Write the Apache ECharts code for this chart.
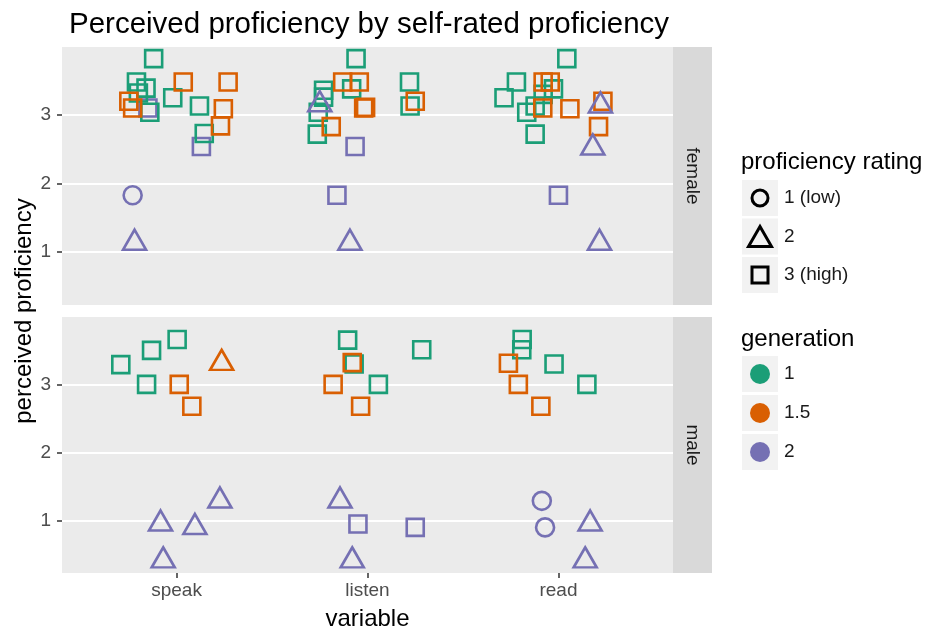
<!DOCTYPE html>
<html lang="en">
<head>
<meta charset="UTF-8">
<title>Perceived proficiency by self-rated proficiency</title>
<script src="https://cdn.jsdelivr.net/npm/echarts@6/dist/echarts.min.js"></script>
<style>html,body{margin:0;padding:0;background:#fff;}</style>
</head>
<body>
<div id="main" style="width:929px;height:631px;"></div>
<script>
var variables = ['speak', 'listen', 'read'];
var sexes = ['female', 'male'];
var generations = ['1', '1.5', '2'];
var ratings = ['1 (low)', '2', '3 (high)'];
var yTicks = [1, 2, 3];
var xTicks = [1, 2, 3];

// rows: [jittered x, perceived proficiency, generation index, rating index]
var femalePoints = [
    // speak
    [0.85, 3.10, 2, 2], [1.13, 2.54, 2, 2], [0.77, 1.83, 2, 0], [0.78, 1.18, 2, 1],
    [0.88, 3.82, 0, 2], [0.79, 3.48, 0, 2], [0.84, 3.39, 0, 2], [0.80, 3.32, 0, 2],
    [0.86, 3.04, 0, 2], [0.98, 3.25, 0, 2], [1.12, 3.13, 0, 2], [1.145, 2.73, 0, 2],
    [0.75, 3.20, 1, 2], [0.77, 3.10, 1, 2], [1.035, 3.48, 1, 2], [1.27, 3.48, 1, 2],
    [1.245, 3.09, 1, 2], [1.23, 2.84, 1, 2],
    // listen
    [1.94, 3.82, 0, 2], [1.917, 3.38, 0, 2], [1.77, 3.36, 0, 2], [1.77, 3.26, 0, 2],
    [1.742, 3.04, 0, 2], [1.737, 2.72, 0, 2], [2.22, 3.48, 0, 2], [2.223, 3.13, 0, 2],
    [1.75, 3.20, 2, 1], [1.935, 2.54, 2, 2], [1.84, 1.83, 2, 2], [1.908, 1.18, 2, 1],
    [1.87, 3.48, 1, 2], [1.957, 3.48, 1, 2], [1.98, 3.10, 1, 2], [1.99, 3.11, 1, 2],
    [1.81, 2.83, 1, 2], [2.25, 3.20, 1, 2],
    // read
    [3.044, 3.82, 0, 2], [2.78, 3.48, 0, 2], [2.974, 3.38, 0, 2], [2.715, 3.25, 0, 2],
    [2.834, 3.04, 0, 2], [2.878, 3.13, 0, 2], [2.92, 3.30, 0, 2], [2.878, 2.72, 0, 2],
    [2.92, 3.48, 1, 2], [2.957, 3.48, 1, 2], [2.918, 3.10, 1, 2], [3.06, 3.09, 1, 2],
    [3.233, 3.20, 1, 2], [3.21, 2.83, 1, 2],
    [3.22, 3.18, 2, 1], [3.18, 2.57, 2, 1], [3.0, 1.83, 2, 2], [3.215, 1.18, 2, 1]
];

var malePoints = [
    // speak
    [0.708, 3.29, 0, 2], [0.869, 3.50, 0, 2], [1.003, 3.66, 0, 2], [0.843, 3.00, 0, 2],
    [1.014, 3.00, 1, 2], [1.08, 2.68, 1, 2], [1.236, 3.36, 1, 1],
    [0.916, 1.00, 2, 1], [1.096, 0.95, 2, 1], [1.227, 1.34, 2, 1], [0.93, 0.46, 2, 1],
    // listen
    [1.896, 3.65, 0, 2], [1.93, 3.30, 0, 2], [2.057, 3.00, 0, 2], [2.284, 3.51, 0, 2],
    [1.92, 3.32, 1, 2], [1.82, 3.00, 1, 2], [1.964, 2.68, 1, 2],
    [1.856, 1.34, 2, 1], [1.95, 0.95, 2, 2], [2.25, 0.90, 2, 2], [1.92, 0.46, 2, 1],
    // read
    [2.81, 3.66, 0, 2], [2.808, 3.51, 0, 2], [2.977, 3.30, 0, 2], [3.149, 3.00, 0, 2],
    [2.738, 3.31, 1, 2], [2.79, 3.00, 1, 2], [2.908, 2.68, 1, 2],
    [2.913, 1.29, 2, 0], [2.93, 0.90, 2, 0], [3.166, 1.00, 2, 1], [3.14, 0.46, 2, 1]
];

var genColors = ['#1b9e77', '#d95f02', '#7570b3'];
var shapeSymbols = ['circle', 'triangle', 'rect'];
var shapeSizes = [18, [23, 20], 17];
var font = 'Liberation Sans, Arial, Helvetica, sans-serif';

var myChart = echarts.init(document.getElementById('main'));

var panels = [
    {top: 47, height: 258},
    {top: 317, height: 256}
];

function toItems(rows) {
    return rows.map(function (r) {
        return {
            value: [r[0], r[1]],
            symbol: shapeSymbols[r[3]],
            symbolSize: shapeSizes[r[3]],
            itemStyle: {
                color: 'rgba(0,0,0,0)',
                borderColor: genColors[r[2]],
                borderWidth: 2.6,
                opacity: 1
            }
        };
    });
}

var grids = [], xAxes = [], yAxes = [], series = [];
var pointSets = [femalePoints, malePoints];

panels.forEach(function (p, i) {
    grids.push({
        left: 62, top: p.top, width: 611, height: p.height,
        show: true, backgroundColor: '#ebebeb', borderWidth: 0
    });
    var isBottom = i === panels.length - 1;
    xAxes.push({
        type: 'value', gridIndex: i, min: 0.4, max: 3.6,
        axisLine: {show: false},
        splitLine: {show: false},
        axisTick: {show: isBottom, customValues: xTicks, length: 5,
            lineStyle: {color: '#333333', width: 1.5}},
        axisLabel: {show: isBottom, customValues: xTicks, margin: 8,
            color: '#4d4d4d', fontSize: 19, fontFamily: font,
            formatter: function (v) { return variables[Math.round(v) - 1]; }}
    });
    yAxes.push({
        type: 'value', gridIndex: i, min: 0.23, max: 3.99,
        axisLine: {show: false},
        splitLine: {show: true, lineStyle: {color: '#ffffff', width: 2}},
        axisTick: {show: true, customValues: yTicks, length: 5,
            lineStyle: {color: '#333333', width: 1.5}},
        axisLabel: {customValues: yTicks, margin: 11,
            color: '#4d4d4d', fontSize: 19, fontFamily: font}
    });
    series.push({
        type: 'scatter', name: sexes[i],
        xAxisIndex: i, yAxisIndex: i,
        itemStyle: {opacity: 1},
        data: toItems(pointSets[i]),
        emphasis: {disabled: true}
    });
});

var graphics = [];
// facet strips
panels.forEach(function (p, i) {
    graphics.push({
        type: 'rect', shape: {x: 673, y: p.top, width: 39, height: p.height},
        style: {fill: '#d9d9d9'}, silent: true
    });
    graphics.push({
        type: 'text', x: 692.5, y: p.top + p.height / 2, rotation: -Math.PI / 2,
        style: {text: sexes[i], fill: '#1a1a1a', font: '19px ' + font,
            textAlign: 'center', textVerticalAlign: 'middle'}
    });
});

// axis titles
graphics.push({
    type: 'text', x: 24, y: 311, rotation: Math.PI / 2,
    style: {text: 'perceived proficiency', fill: '#000', font: '24px ' + font,
        textAlign: 'center', textVerticalAlign: 'middle'}
});
graphics.push({
    type: 'text', x: 367.5, y: 619,
    style: {text: 'variable', fill: '#000', font: '24px ' + font,
        textAlign: 'center', textVerticalAlign: 'middle'}
});

// legend: proficiency rating (shape)
graphics.push({
    type: 'text', x: 741, y: 162,
    style: {text: 'proficiency rating', fill: '#000', font: '24px ' + font,
        textVerticalAlign: 'middle'}
});
var keyTops1 = [180, 218.5, 257];
ratings.forEach(function (lab, k) {
    var y0 = keyTops1[k];
    graphics.push({type: 'rect', shape: {x: 742, y: y0, width: 36, height: 36},
        style: {fill: '#f2f2f2'}, silent: true});
    var sz = shapeSizes[k];
    var w = Array.isArray(sz) ? sz[0] : sz, h = Array.isArray(sz) ? sz[1] : sz;
    var cx = 760, cy = y0 + 18, sym;
    if (k === 0) {
        sym = {type: 'circle', shape: {cx: cx, cy: cy, r: 8}};
    } else if (k === 1) {
        sym = {type: 'polygon', shape: {points: [[cx, cy - h / 2], [cx + w / 2, cy + h / 2], [cx - w / 2, cy + h / 2]]}};
    } else {
        sym = {type: 'rect', shape: {x: cx - 8, y: cy - 8, width: 16, height: 16}};
    }
    sym.style = {fill: 'none', stroke: '#000', lineWidth: 3};
    graphics.push(sym);
    graphics.push({type: 'text', x: 784, y: cy,
        style: {text: lab, fill: '#1a1a1a', font: '19px ' + font, textVerticalAlign: 'middle'}});
});

// legend: generation (colour)
graphics.push({
    type: 'text', x: 741, y: 339,
    style: {text: 'generation', fill: '#000', font: '24px ' + font,
        textVerticalAlign: 'middle'}
});
var keyTops2 = [356, 395, 434];
generations.forEach(function (lab, k) {
    var y0 = keyTops2[k];
    graphics.push({type: 'rect', shape: {x: 742, y: y0, width: 36, height: 36},
        style: {fill: '#f2f2f2'}, silent: true});
    graphics.push({type: 'circle', shape: {cx: 760, cy: y0 + 18, r: 10},
        style: {fill: genColors[k]}});
    graphics.push({type: 'text', x: 784, y: y0 + 18,
        style: {text: lab, fill: '#1a1a1a', font: '19px ' + font, textVerticalAlign: 'middle'}});
});

var option = {
    animation: false,
    backgroundColor: '#ffffff',
    title: {
        text: 'Perceived proficiency by self-rated proficiency',
        left: 64, top: 5,
        textStyle: {color: '#000', fontSize: 29.5, fontWeight: 'normal', fontFamily: font}
    },
    grid: grids,
    xAxis: xAxes,
    yAxis: yAxes,
    series: series,
    graphic: graphics
};

myChart.setOption(option);
</script>
</body>
</html>
